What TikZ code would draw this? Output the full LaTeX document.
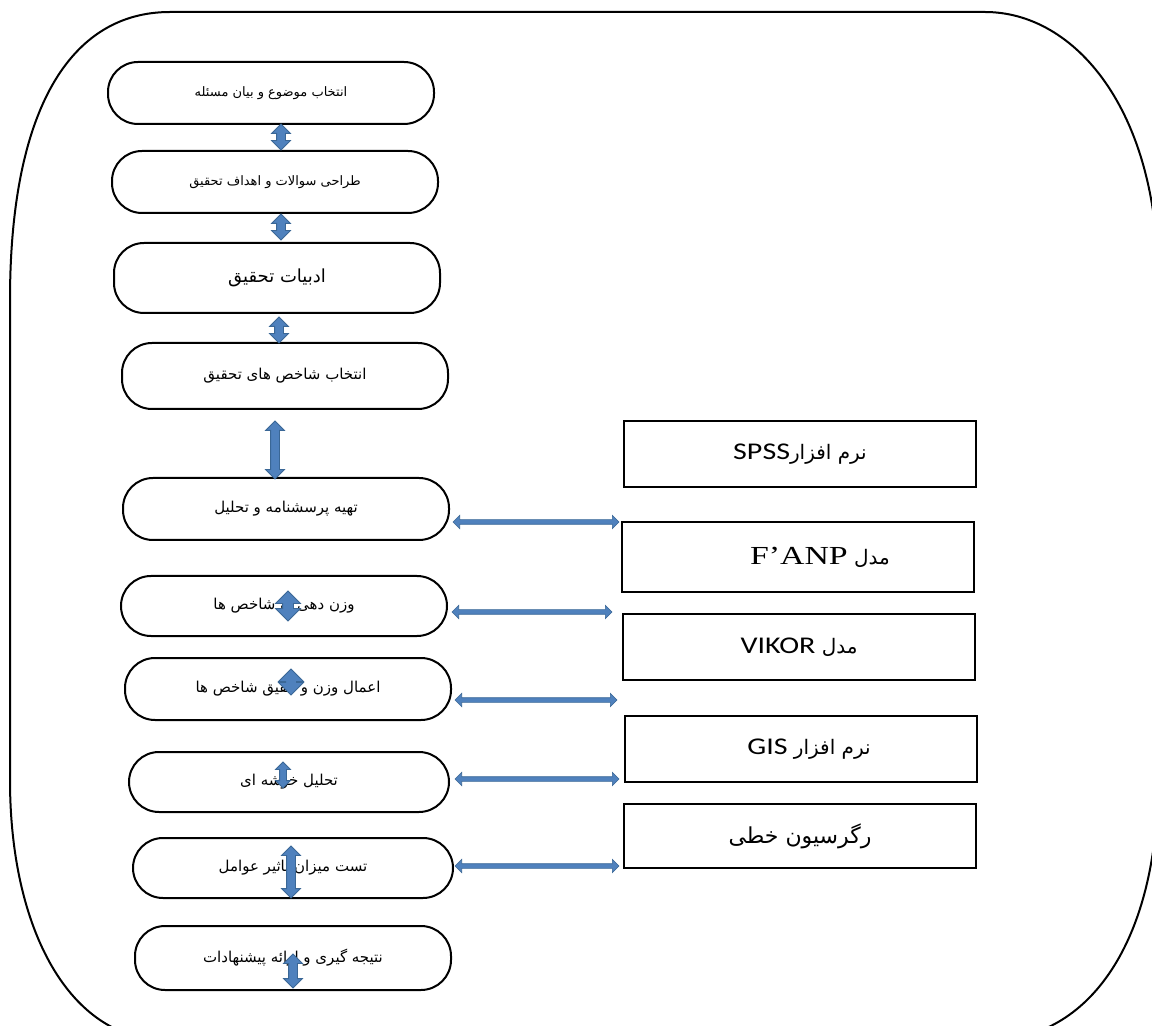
\documentclass[tikz,border=0pt]{standalone}
\usepackage{fontspec}
\usetikzlibrary{shapes.arrows}
\TeXXeTstate=1
\newfontfamily\fafont[Script=Arabic]{DejaVu Sans}
\newfontfamily\latfont[FakeStretch=1.25]{Carlito}
\newfontfamily\serfont[FakeStretch=1.3]{Liberation Serif}
\definecolor{arrowblue}{HTML}{4F81BD}
\definecolor{arrowedge}{HTML}{3A6796}

\tikzset{
  stage/.style={draw, line width=1pt, rounded corners=15pt, minimum width=163pt, minimum height=31pt, inner sep=0pt, font=\fafont\fontsize{7.5}{9}\selectfont},
  toolbox/.style={draw, line width=1pt, minimum width=176pt, minimum height=33pt, inner sep=0pt, font=\fafont\fontsize{10}{12}\selectfont},
  vlink/.style={shape=double arrow, rotate=90, fill=arrowblue, draw=arrowedge, line width=0.4pt, inner xsep=0pt, inner ysep=2pt, double arrow head extend=2.5pt},
  hlink/.style={shape=double arrow, fill=arrowblue, draw=arrowedge, line width=0.3pt, inner xsep=0pt, inner ysep=1pt, double arrow head extend=2.2pt},
}

\begin{document}
\begin{tikzpicture}[x=0.5pt, y=-0.5pt]
    \useasboundingbox (0,0) rectangle (1152,1026);
    \clip (0,0) rectangle (1152,1026);

    % Marco exterior
    \draw[line width=1pt] (170,12) -- (985,12)
        .. controls (1075,12) and (1158,110) .. (1158,280) -- (1158,780)
        .. controls (1158,940) and (1090,1040) .. (990,1040) -- (165,1040)
        .. controls (70,1040) and (10,930) .. (10,780) -- (10,300)
        .. controls (10,110) and (70,12) .. (170,12) -- cycle;

    % Etapas
    \node[stage, font=\fafont\fontsize{6.5}{8}\selectfont] (s1) at (271,93) {\beginR انتخاب موضوع و بیان مسئله\endR};
    \node[stage, font=\fafont\fontsize{6.5}{8}\selectfont] (s2) at (275,182) {\beginR طراحی سوالات و اهداف تحقیق\endR};
    \node[stage, minimum height=35pt, font=\fafont\fontsize{9}{11}\selectfont] (s3) at (277,278) {\beginR ادبیات تحقیق\endR};
    \node[stage, minimum height=33pt] (s4) at (285,376) {\beginR انتخاب شاخص های تحقیق\endR};
    \node[stage] (s5) at (286,509) {\beginR تهیه پرسشنامه و تحلیل\endR};
    \node[stage, minimum height=30pt] (s6) at (284,606) {\beginR وزن دهی به شاخص ها\endR};
    \node[stage] (s7) at (288,689) {\beginR اعمال وزن و تلفیق شاخص ها\endR};
    \node[stage, minimum width=160pt, minimum height=30pt] (s8) at (289,782) {\beginR تحلیل خوشه ای\endR};
    \node[stage, minimum width=160pt, minimum height=30pt] (s9) at (293,868) {\beginR تست میزان تاثیر عوامل\endR};
    \node[stage, minimum width=158pt, minimum height=32pt] (s10) at (293,958) {\beginR نتیجه گیری و ارائه پیشنهادات\endR};

    % Herramientas
    \node[toolbox] (b1) at (800,454) {\beginR نرم افزار\beginL{\latfont\fontsize{12}{14}\selectfont SPSS}\endL\endR};
    \node[toolbox, minimum height=35pt] (b2) at (798,557) {\beginR مدل \beginL{\serfont\fontsize{13}{15}\selectfont F’ANP}\endL\kern 22pt\endR};
    \node[toolbox] (b3) at (799,647) {\beginR مدل \beginL{\latfont\fontsize{12}{14}\selectfont VIKOR}\endL\endR};
    \node[toolbox] (b4) at (801,749) {\beginR نرم افزار \beginL{\latfont\fontsize{12}{14}\selectfont GIS}\endL\kern 8pt\endR};
    \node[toolbox, minimum height=32pt, font=\fafont\fontsize{11}{13}\selectfont] (b5) at (800,836) {\beginR رگرسیون خطی\endR};

    % Flechas verticales
    \node[vlink, minimum height=13pt] (v1) at (281,137) {};
    \node[vlink, minimum height=13pt] (v2) at (281,227) {};
    \node[vlink, minimum height=13pt] (v3) at (279,330) {};
    \node[vlink, minimum height=29pt] (v4) at (275,450) {};
    \node[vlink, minimum height=15pt, inner ysep=2.5pt, double arrow head extend=3.5pt] (v5) at (288,606) {};
    \node[vlink, minimum height=13pt, inner ysep=2.5pt, double arrow head extend=3.5pt] (v6) at (291,682) {};
    \node[vlink, minimum height=13pt, inner ysep=1.5pt, double arrow head extend=2pt] (v7) at (283,775) {};
    \node[vlink, minimum height=26pt] (v8) at (291,872) {};
    \node[vlink, minimum height=17pt] (v9) at (293,971) {};

    % Flechas horizontales
    \node[hlink, minimum height=83pt] (h1) at (536,522) {};
    \node[hlink, minimum height=80pt] (h2) at (532,612) {};
    \node[hlink, minimum height=81pt] (h3) at (536,700) {};
    \node[hlink, minimum height=82pt] (h4) at (537,779) {};
    \node[hlink, minimum height=82pt] (h5) at (537,866) {};
\end{tikzpicture}
\end{document}
